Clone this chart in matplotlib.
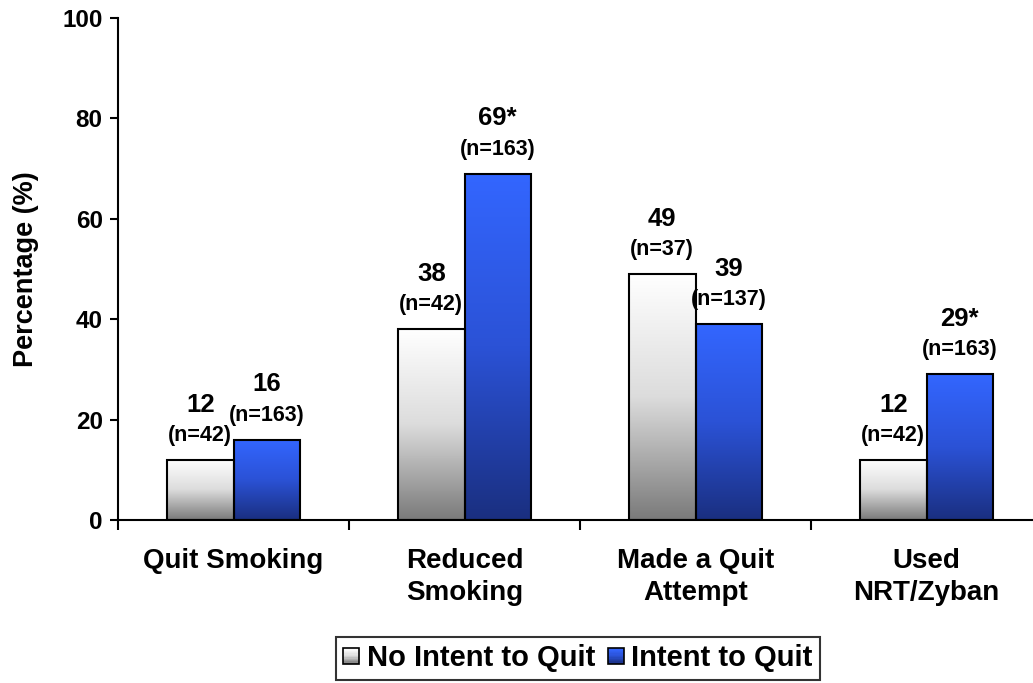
import numpy as np
import matplotlib
matplotlib.use("Agg")
import matplotlib.pyplot as plt
from matplotlib.colors import LinearSegmentedColormap
from matplotlib.patches import Rectangle
from matplotlib.legend_handler import HandlerBase

plt.rcParams['font.family'] = ['Liberation Sans', 'DejaVu Sans']
plt.rcParams['font.weight'] = 'bold'

# Data
categories = ["Quit Smoking", "Reduced\nSmoking", "Made a Quit\nAttempt", "Used\nNRT/Zyban"]
no_intent = [12, 38, 49, 12]
intent = [16, 69, 39, 29]
no_intent_n = ["(n=42)", "(n=42)", "(n=37)", "(n=42)"]
intent_n = ["(n=163)", "(n=163)", "(n=137)", "(n=163)"]
intent_sig = ["", "*", "", "*"]
series_names = ["No Intent to Quit", "Intent to Quit"]
yticks = [0, 20, 40, 60, 80, 100]

gray_cmap = LinearSegmentedColormap.from_list("gray_grad", ["#ffffff", "#dcdcdc", "#7a7a7a"])
blue_cmap = LinearSegmentedColormap.from_list("blue_grad", ["#3366ff", "#2b52d6", "#1a2f80"])

W, H = 1033, 683
fig = plt.figure(figsize=(W / 100, H / 100), dpi=100)
ax = fig.add_axes([118 / W, (H - 520) / H, 924 / W, 502 / H])

x = np.arange(len(categories))
bw = 0.288

bars_a = ax.bar(x - bw / 2, no_intent, bw, facecolor="none", edgecolor="black", linewidth=1.5, zorder=3)
bars_b = ax.bar(x + bw / 2, intent, bw, facecolor="none", edgecolor="black", linewidth=1.5, zorder=3)

grad = np.linspace(0, 1, 256).reshape(-1, 1)


def fill_gradient(bars, cmap):
    for b in bars:
        x0, y0 = b.get_x(), b.get_y()
        w, h = b.get_width(), b.get_height()
        ax.imshow(grad, cmap=cmap, aspect="auto", origin="upper",
                  extent=(x0, x0 + w, y0, y0 + h), zorder=2, interpolation="bilinear")


fill_gradient(bars_a, gray_cmap)
fill_gradient(bars_b, blue_cmap)


def annotate(bars, values, ns, sig):
    for b, v, n, s in zip(bars, values, ns, sig):
        cx = b.get_x() + b.get_width() / 2
        top = b.get_height()
        ax.text(cx, top + 4.9, n, ha="center", va="center", fontsize=15.5, fontweight="bold")
        ax.text(cx, top + 11.0, f"{v}{s}", ha="center", va="center", fontsize=18.5, fontweight="bold")


annotate(bars_a, no_intent, no_intent_n, [""] * len(no_intent))
annotate(bars_b, intent, intent_n, intent_sig)

ax.set_xlim(-0.5, len(categories) - 0.5)
ax.set_ylim(0, 100)
ax.set_yticks(yticks)
ax.set_yticklabels([str(t) for t in yticks], fontsize=17.5, fontweight="bold")
ax.tick_params(axis="y", direction="out", length=6, width=1.5, pad=5)

ax.set_xticks(np.arange(-0.5, len(categories), 1.0))
ax.set_xticklabels([])
ax.set_xticks(x, minor=True)
ax.set_xticklabels(categories, minor=True, fontsize=20, fontweight="bold", linespacing=1.3)
ax.tick_params(axis="x", which="major", direction="out", length=7, width=1.5)
ax.tick_params(axis="x", which="minor", length=0, pad=20)

for side in ("top", "right"):
    ax.spines[side].set_visible(False)
for side in ("left", "bottom"):
    ax.spines[side].set_linewidth(1.5)

ax.set_ylabel("Percentage (%)", fontsize=19.5, fontweight="bold")
ax.yaxis.set_label_coords(-0.086, 0.5, transform=ax.transAxes)


class GradientHandler(HandlerBase):
    def __init__(self, cmap, **kw):
        super().__init__(**kw)
        self.cmap = cmap

    def create_artists(self, legend, orig_handle, xdescent, ydescent, width, height, fontsize, trans):
        side = min(width, height)
        x0 = -xdescent + (width - side) / 2
        y0 = -ydescent + (height - side) / 2
        strips = 12
        artists = []
        for i in range(strips):
            c = self.cmap(i / (strips - 1))
            artists.append(Rectangle((x0, y0 + side - (i + 1) * side / strips), side, side / strips,
                                     facecolor=c, edgecolor="none", transform=trans))
        artists.append(Rectangle((x0, y0), side, side, facecolor="none",
                                 edgecolor="black", linewidth=1.2, transform=trans))
        return artists


h_a = Rectangle((0, 0), 1, 1)
h_b = Rectangle((0, 0), 1, 1)
leg = fig.legend([h_a, h_b], series_names, loc="upper center",
                 bbox_to_anchor=(578 / W, 1 - 637 / H), ncol=2,
                 handler_map={h_a: GradientHandler(gray_cmap), h_b: GradientHandler(blue_cmap)},
                 prop={"size": 21, "weight": "bold"}, frameon=True, fancybox=False,
                 edgecolor="black", handlelength=0.55, handleheight=0.55, handletextpad=0.25,
                 columnspacing=0.45, borderpad=0.25, borderaxespad=0)
leg.get_frame().set_linewidth(1.5)

fig.savefig("out.png", dpi=100)
